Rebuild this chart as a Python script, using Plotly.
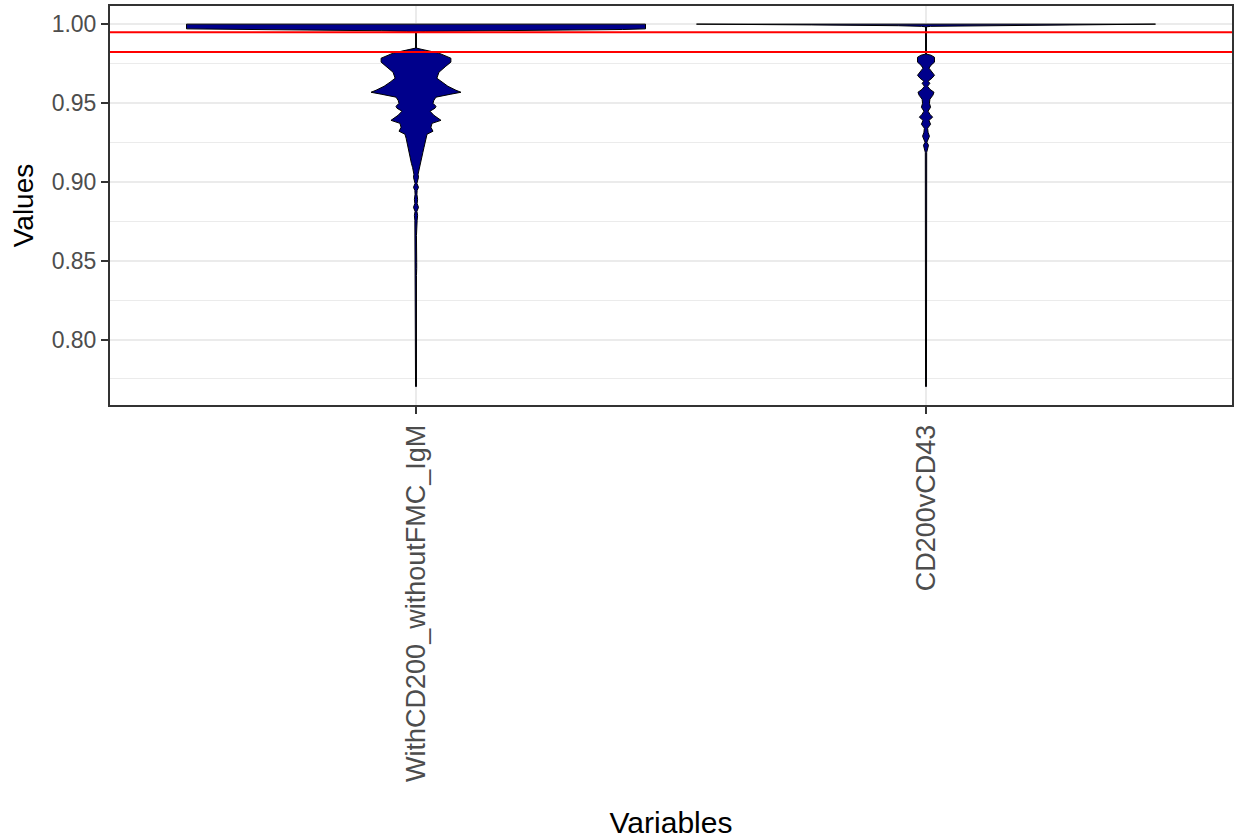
import plotly.graph_objects as go

# ---- data ----
categories = ["WithCD200_withoutFMC_IgM", "CD200vCD43"]

# violin 1 profile: values and relative density (1 = widest)
v1_values = [1.0000, 0.9970, 0.9966, 0.9962, 0.9958, 0.9954, 0.9950, 0.9848, 0.9841,
             0.9829, 0.9816, 0.9784, 0.9759, 0.9733, 0.9695, 0.9657, 0.9632, 0.9606,
             0.9581, 0.9568, 0.9556, 0.9537, 0.9517, 0.9498, 0.9479, 0.9467, 0.9448,
             0.9422, 0.9390, 0.9371, 0.9346, 0.9321, 0.9302, 0.9276, 0.9244, 0.9219,
             0.9187, 0.9149, 0.9117, 0.9092, 0.9067, 0.9048, 0.9029, 0.9010, 0.8990,
             0.8965, 0.8946, 0.8921, 0.8889, 0.8863, 0.8838, 0.8813, 0.8787, 0.8756,
             0.8724, 0.8660, 0.8489, 0.8470, 0.8451, 0.8406, 0.7702]
v1_density = [1.000, 1.000, 0.900, 0.500, 0.150, 0.040, 0.002, 0.002, 0.022,
              0.061, 0.100, 0.152, 0.152, 0.130, 0.100, 0.091, 0.113, 0.139,
              0.174, 0.196, 0.152, 0.087, 0.078, 0.074, 0.087, 0.083, 0.061,
              0.078, 0.109, 0.070, 0.065, 0.074, 0.048, 0.043, 0.039, 0.035,
              0.030, 0.024, 0.020, 0.015, 0.011, 0.009, 0.011, 0.007, 0.004,
              0.011, 0.005, 0.004, 0.007, 0.005, 0.011, 0.004, 0.007, 0.005,
              0.003, 0.002, 0.003, 0.004, 0.003, 0.002, 0.002]

# violin 2 profile
v2_values = [1.0000, 0.9995, 0.9990, 0.9986, 0.9983, 0.9810, 0.9803, 0.9790, 0.9759,
             0.9740, 0.9721, 0.9702, 0.9676, 0.9657, 0.9638, 0.9625, 0.9606, 0.9587,
             0.9568, 0.9549, 0.9524, 0.9498, 0.9473, 0.9448, 0.9429, 0.9410, 0.9390,
             0.9365, 0.9340, 0.9314, 0.9289, 0.9251, 0.9232, 0.9187, 0.9168, 0.9143,
             0.9105, 0.9079, 0.7702]
v2_density = [1.000, 0.500, 0.120, 0.020, 0.002, 0.002, 0.022, 0.037, 0.037,
              0.022, 0.013, 0.022, 0.037, 0.026, 0.009, 0.017, 0.007, 0.017,
              0.035, 0.030, 0.017, 0.015, 0.020, 0.009, 0.017, 0.029, 0.013,
              0.020, 0.007, 0.009, 0.015, 0.004, 0.011, 0.003, 0.003, 0.004,
              0.003, 0.002, 0.002]

threshold_values = [0.9949, 0.9823]

y_ticks = [0.80, 0.85, 0.90, 0.95, 1.00]
y_tick_labels = ["0.80", "0.85", "0.90", "0.95", "1.00"]

HALF_WIDTH = 0.45

fig = go.Figure()

for pos, (vals, dens) in enumerate([(v1_values, v1_density), (v2_values, v2_density)], start=1):
    xs = [pos + HALF_WIDTH * d for d in dens] + [pos - HALF_WIDTH * d for d in reversed(dens)]
    ys = list(vals) + list(reversed(vals))
    xs.append(xs[0])
    ys.append(ys[0])
    fig.add_trace(go.Scatter(
        x=xs, y=ys, mode="lines", fill="toself",
        fillcolor="#00008B", line=dict(color="black", width=1),
        hoverinfo="skip", showlegend=False,
    ))

for t in threshold_values:
    fig.add_shape(type="line", xref="paper", x0=0, x1=1, yref="y", y0=t, y1=t,
                  line=dict(color="#FF0000", width=2), layer="above")

fig.update_layout(
    width=1238, height=839,
    margin=dict(l=110, r=6, t=6, b=434),
    paper_bgcolor="white", plot_bgcolor="white",
    font=dict(family="Liberation Sans, Arial, sans-serif", color="black"),
    showlegend=False,
)

fig.update_xaxes(
    range=[0.4, 2.6], tickvals=[1, 2], ticktext=categories, tickangle=-90,
    tickfont=dict(size=27, color="#4D4D4D"),
    showgrid=True, gridcolor="#EBEBEB", gridwidth=2,
    ticks="outside", ticklen=7, tickwidth=2, tickcolor="#333333",
    showline=True, linecolor="#333333", linewidth=2, mirror=True,
    zeroline=False, automargin=False,
    title=dict(text="Variables", font=dict(size=30, color="black"), standoff=34),
)
fig.update_yaxes(
    range=[0.7585, 1.0115], tickvals=y_ticks, ticktext=y_tick_labels,
    tickfont=dict(size=23, color="#4D4D4D"),
    showgrid=True, gridcolor="#EBEBEB", gridwidth=2,
    minor=dict(tick0=0.775, dtick=0.05, showgrid=True, gridcolor="#EBEBEB", gridwidth=1, ticks=""),
    ticks="outside", ticklen=7, tickwidth=2, tickcolor="#333333",
    showline=True, linecolor="#333333", linewidth=2, mirror=True,
    zeroline=False, automargin=False,
    title=dict(text="Values", font=dict(size=28, color="black"), standoff=10),
)

fig.write_html(
    "out.html",
    config={"displayModeBar": False},
    post_script="document.body.style.margin='0';document.body.style.overflow='hidden';",
)
